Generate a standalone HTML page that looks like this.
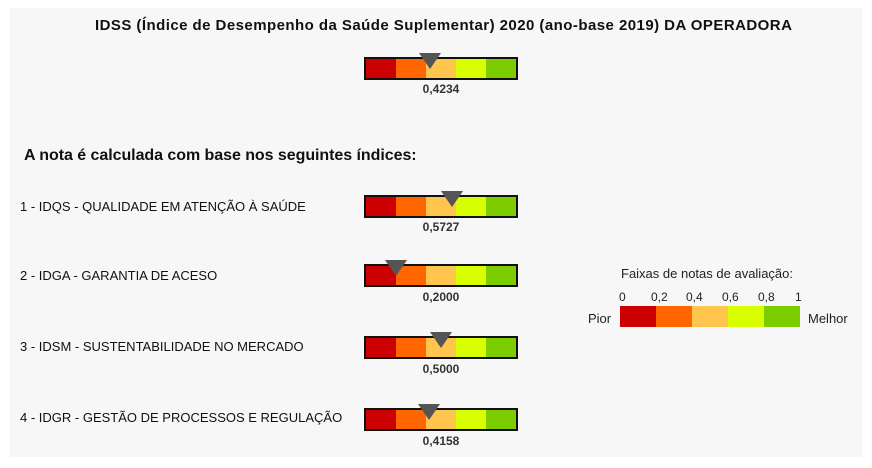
<!DOCTYPE html>
<html><head><meta charset="utf-8"><style>
body{margin:0;width:872px;height:468px;background:#fff;font-family:"Liberation Sans",Arial,sans-serif;position:relative;overflow:hidden;color:#111}
#p{position:absolute;left:10px;top:8px;width:852px;height:449px;background:#f7f7f7}
.a{position:absolute;white-space:nowrap}
.bar{position:absolute;left:364px;width:150px;height:19px;border:2px solid #111;display:flex}
.bar i,.leg i{flex:1}
.c1{background:#cc0000}.c2{background:#ff6600}.c3{background:#ffc54f}.c4{background:#d8ff00}.c5{background:#7dcc00}
.tri{position:absolute;width:0;height:0;border-left:11px solid transparent;border-right:11px solid transparent;border-top:16px solid #555}
.v{position:absolute;left:364px;width:154px;text-align:center;font-weight:bold;font-size:12px;color:#333}
.lab{position:absolute;left:20px;font-size:13px;letter-spacing:0px;color:#111}
</style></head><body>
<div id="p"></div>
<div class="a" style="left:95px;top:17px;font-weight:bold;font-size:15px;letter-spacing:0.45px">IDSS (Índice de Desempenho da Saúde Suplementar) 2020 (ano-base 2019) DA OPERADORA</div>

<div class="bar" style="top:57px"><i class="c1"></i><i class="c2"></i><i class="c3"></i><i class="c4"></i><i class="c5"></i></div>
<div class="tri" style="left:419px;top:53px"></div>
<div class="v" style="top:82px">0,4234</div>

<div class="a" style="left:24px;top:147px;font-weight:bold;font-size:16px;letter-spacing:-0.05px">A nota é calculada com base nos seguintes índices:</div>

<div class="lab" style="top:199px">1 - IDQS - QUALIDADE EM ATENÇÃO À SAÚDE</div>
<div class="bar" style="top:195px"><i class="c1"></i><i class="c2"></i><i class="c3"></i><i class="c4"></i><i class="c5"></i></div>
<div class="tri" style="left:441px;top:191px"></div>
<div class="v" style="top:220px">0,5727</div>

<div class="lab" style="top:268px">2 - IDGA - GARANTIA DE ACESO</div>
<div class="bar" style="top:264px"><i class="c1"></i><i class="c2"></i><i class="c3"></i><i class="c4"></i><i class="c5"></i></div>
<div class="tri" style="left:385px;top:260px"></div>
<div class="v" style="top:290px">0,2000</div>

<div class="lab" style="top:339px">3 - IDSM - SUSTENTABILIDADE NO MERCADO</div>
<div class="bar" style="top:336px"><i class="c1"></i><i class="c2"></i><i class="c3"></i><i class="c4"></i><i class="c5"></i></div>
<div class="tri" style="left:430px;top:332px"></div>
<div class="v" style="top:362px">0,5000</div>

<div class="lab" style="top:410px">4 - IDGR - GESTÃO DE PROCESSOS E REGULAÇÃO</div>
<div class="bar" style="top:408px"><i class="c1"></i><i class="c2"></i><i class="c3"></i><i class="c4"></i><i class="c5"></i></div>
<div class="tri" style="left:418px;top:404px"></div>
<div class="v" style="top:434px">0,4158</div>

<div class="a" style="left:621px;top:266px;font-size:13px;color:#222">Faixas de notas de avaliação:</div>
<div class="a" style="left:619px;top:290px;font-size:12px;color:#222">0</div>
<div class="a" style="left:651px;top:290px;font-size:12px;color:#222">0,2</div>
<div class="a" style="left:686px;top:290px;font-size:12px;color:#222">0,4</div>
<div class="a" style="left:722px;top:290px;font-size:12px;color:#222">0,6</div>
<div class="a" style="left:758px;top:290px;font-size:12px;color:#222">0,8</div>
<div class="a" style="left:795px;top:290px;font-size:12px;color:#222">1</div>
<div class="a" style="left:588px;top:311px;font-size:13px;color:#222">Pior</div>
<div class="leg" style="position:absolute;left:620px;top:306px;width:180px;height:21px;display:flex"><i class="c1"></i><i class="c2"></i><i class="c3"></i><i class="c4"></i><i class="c5"></i></div>
<div class="a" style="left:808px;top:311px;font-size:13px;color:#222">Melhor</div>
</body></html>
